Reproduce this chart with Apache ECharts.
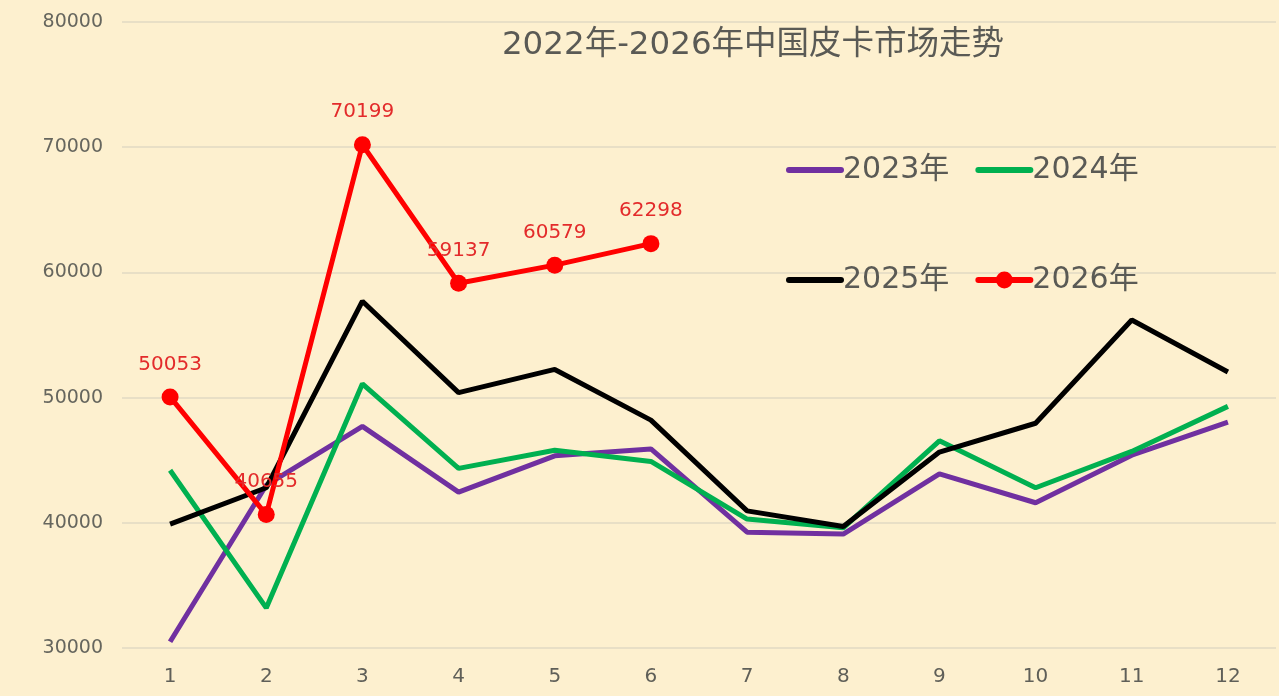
<!DOCTYPE html>
<html>
<head>
<meta charset="utf-8">
<script src="https://cdn.jsdelivr.net/npm/echarts@6/dist/echarts.min.js"></script>
<style>
  html, body { margin: 0; padding: 0; background: #fdf0cf; }
  #main { width: 1279px; height: 696px; }
</style>
</head>
<body>
<div id="main"></div>
<script>
// months 1..12
const months = ['1', '2', '3', '4', '5', '6', '7', '8', '9', '10', '11', '12']
const sales2023 = [30500, 43000, 47700, 42450, 45350, 45900, 39250, 39100, 43900, 41600, 45400, 48050]
const sales2024 = [44200, 33200, 51100, 44350, 45800, 44900, 40300, 39600, 46550, 42800, 45700, 49300]
const sales2025 = [39900, 42800, 57700, 50400, 52250, 48200, 40950, 39700, 45650, 47950, 56200, 52050]
const sales2026 = [50053, 40655, 70199, 59137, 60579, 62298]

const font = '"DejaVu Sans", "Noto Sans CJK SC", sans-serif'
const chart = echarts.init(document.getElementById('main'))

// legend: plain line for the first three, line + dot for 2026
const hideDot = { color: 'rgba(0,0,0,0)', borderWidth: 0 }
const legendCommon = {
  left: 781,
  itemWidth: 52,
  itemHeight: 21,
  itemGap: 26,
  lineStyle: { width: 6, cap: 'round' },
  textStyle: { fontFamily: font, fontSize: 30, color: '#5a5a55', padding: [0, 0, 0, -3] }
}

chart.setOption({
  backgroundColor: '#fdf0cf',
  title: {
    text: '2022年-2026年中国皮卡市场走势',
    left: 748,
    textAlign: 'center',
    top: 24,
    textStyle: {
      fontFamily: font,
      fontSize: 32.5,
      fontWeight: 'normal',
      color: '#5a5a55'
    }
  },
  legend: [Object.assign({
    top: 150,
    data: [
      { name: '2023年', itemStyle: hideDot },
      { name: '2024年', itemStyle: hideDot }
    ]
  }, legendCommon), Object.assign({
    top: 260,
    data: [
      { name: '2025年', itemStyle: hideDot },
      { name: '2026年' }
    ]
  }, legendCommon)],
  grid: {
    left: 122,
    right: 3,
    top: 22,
    bottom: 48
  },
  xAxis: {
    type: 'category',
    data: months,
    boundaryGap: true,
    axisLine: { show: false },
    axisTick: { show: false },
    axisLabel: {
      margin: 19,
      fontFamily: font,
      fontSize: 20,
      color: '#5f5f58'
    }
  },
  yAxis: {
    type: 'value',
    min: 30000,
    max: 80000,
    interval: 10000,
    axisLine: { show: false },
    axisTick: { show: false },
    axisLabel: {
      margin: 19,
      fontFamily: font,
      fontSize: 19,
      color: '#66665e',
      formatter: v => String(v)
    },
    splitLine: {
      lineStyle: { color: '#e8dfc6', width: 2 }
    }
  },
  series: [{
    name: '2023年',
    type: 'line',
    data: sales2023,
    symbol: 'none',
    color: '#7030a0',
    lineStyle: { width: 5, color: '#7030a0' }
  }, {
    name: '2024年',
    type: 'line',
    data: sales2024,
    symbol: 'none',
    color: '#00b050',
    lineStyle: { width: 5, color: '#00b050' }
  }, {
    name: '2025年',
    type: 'line',
    data: sales2025,
    symbol: 'none',
    color: '#000000',
    lineStyle: { width: 5, color: '#000000' }
  }, {
    name: '2026年',
    type: 'line',
    data: sales2026,
    symbol: 'circle',
    symbolSize: 17,
    color: '#ff0000',
    lineStyle: { width: 5, color: '#ff0000' },
    itemStyle: { color: '#ff0000' },
    label: {
      show: true,
      position: 'top',
      distance: 14,
      fontFamily: font,
      fontSize: 20,
      color: '#e32b2b'
    }
  }]
})
</script>
</body>
</html>
